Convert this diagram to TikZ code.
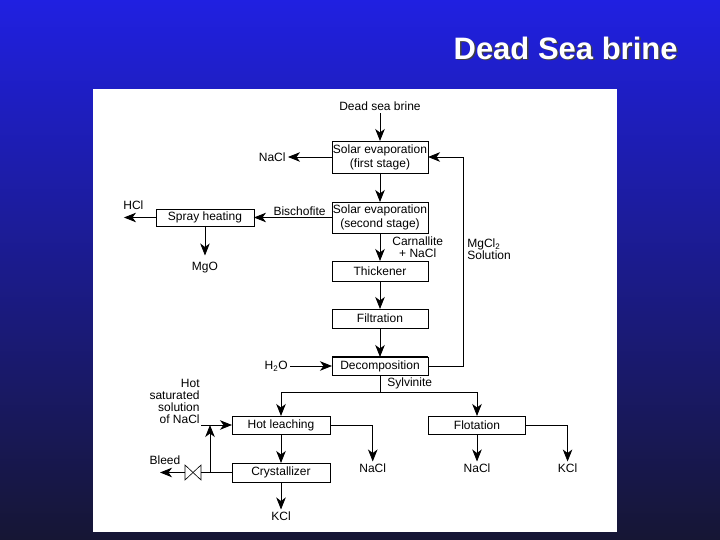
\documentclass[tikz,border=0pt]{standalone}
\usepackage{fontspec}
\setmainfont{Liberation Sans}
\usetikzlibrary{arrows.meta,positioning}
\definecolor{BgTop}{RGB}{32,32,225}
\definecolor{BgMid}{RGB}{30,32,180}
\definecolor{BgBot}{RGB}{22,22,52}

\begin{document}
\begin{tikzpicture}[x=1pt,y=-1pt,>={Stealth[length=12pt,width=9.5pt,inset=3.5pt]},
    line width=0.8pt,font=\fontsize{12}{14}\selectfont,
    unit/.style={draw,minimum width=96pt,minimum height=18pt,inner sep=1pt,outer sep=0pt,align=center},
    lbl/.style={inner sep=2pt,align=center},
    tight/.style={font=\fontsize{12}{12}\selectfont}]
  % slide
  \fill[top color=BgTop,middle color=BgMid,bottom color=BgBot] (0,0) rectangle (720,540);
  \fill[white] (93,89) rectangle (617,532);
  \node[anchor=east,inner sep=0pt,text=black!75,font=\fontsize{31}{36}\selectfont\bfseries] (titleshade) at (679.5,49.5) {Dead Sea brine};
  \node[anchor=east,inner sep=0pt,text=white,font=\fontsize{31}{36}\selectfont\bfseries] (title) at (678,48) {Dead Sea brine};

  % main line
  \node[unit,minimum height=32pt] (se1) at (380,157) {Solar evaporation\\(first stage)};
  \node[lbl,above=27.5pt of se1] (brine) {Dead sea brine};
  \node[unit,minimum height=31pt,below=29pt of se1] (se2) {Solar evaporation\\(second stage)};
  \node[unit,minimum height=20pt,below=28pt of se2] (thk) {Thickener};
  \node[unit,minimum height=19pt,below=28pt of thk] (filt) {Filtration};
  \node[unit,below=29pt of filt] (dec) {Decomposition};
  \draw[line width=1.6pt] (dec.north west) -- (dec.north east);
  \node[unit,minimum width=98pt,below=41pt of dec,xshift=-99pt] (hl) {Hot leaching};
  \node[unit,minimum width=97pt,below=41pt of dec,xshift=97pt] (flot) {Flotation};
  \node[unit,minimum width=98pt,minimum height=19pt,below=29pt of hl] (cry) {Crystallizer};
  \node[unit,minimum width=98pt,minimum height=17pt,left=78pt of se2] (spray) {Spray heating};

  \draw[->] (brine) -- (se1); \draw[->] (se1) -- (se2);
  \draw[->] (se2) -- node[lbl,tight,right,xshift=10pt]{Carnallite\\+ NaCl} (thk);
  \draw[->] (thk) -- (filt); \draw[->] (filt) -- (dec);

  % side streams up top
  \node[lbl,left=44pt of se1] (nacl1) {NaCl};
  \draw[->] (se1) -- (nacl1);
  \draw[->] (se2) -- node[pos=0,anchor=south east,inner sep=1pt,xshift=-5pt]{Bischofite} (spray);
  \coordinate[left=32pt of spray] (hclend);
  \node[lbl,above right=5.5pt and -3pt of hclend] (hcl) {HCl};
  \draw[->] (spray) -- (hclend);
  \node[lbl,below=33.5pt of spray] (mgo) {MgO};
  \draw[->,shorten >=4pt] (spray) -- (mgo);

  % recycle
  \coordinate[right=35pt of dec] (rec);
  \draw[->] (dec) -- (rec) |- node[lbl,tight,pos=0.28,right,xshift=2pt,align=left]{MgCl\textsubscript{2}\\Solution} (se1);
  \node[lbl,left=42pt of dec] (h2o) {H\textsubscript{2}O};
  \draw[->] (h2o) -- (dec);

  % sylvinite split
  \coordinate[below=17pt of dec] (split);
  \draw (dec) -- node[lbl,right,xshift=5pt]{Sylvinite} (split);
  \draw[->] (split) -| (hl); \draw[->] (split) -| (flot);

  \node[lbl,below right=27.5pt and 27pt of hl] (nacl2) {NaCl};
  \node[lbl,below=27.5pt of flot] (nacl3) {NaCl};
  \node[lbl,below right=27.5pt and 30pt of flot] (kcl1) {KCl};
  \node[lbl,below=27.5pt of cry] (kcl2) {KCl};
  \draw[->] (hl) -| (nacl2);
  \draw[->] (flot) -- (nacl3); \draw[->] (flot) -| (kcl1);
  \draw[->] (hl) -- (cry); \draw[->] (cry) -- (kcl2);

  % bleed loop
  \coordinate[left=22pt of cry] (jn);
  \node[minimum width=16pt,minimum height=15pt,inner sep=0pt,outer sep=0pt,left=9pt of jn] (valve) {};
  \draw[line width=0.6pt] (valve.north west) -- (valve.south east) -- (valve.north east) -- (valve.south west) -- cycle;
  \draw (cry) -- (valve);
  \coordinate[left=25pt of valve] (bleedend);
  \draw[->] (valve) -- (bleedend);
  \node[lbl,above=5pt of bleedend,xshift=5pt] (bleed) {Bleed};
  \coordinate[left=31pt of hl] (hotin);
  \draw[->] (hotin) -- (hl);
  \draw[->] (jn) -- (jn |- hotin);
  \node[lbl,tight,anchor=south east,inner sep=1pt,align=right] (hotsat) at (hotin) {Hot\\saturated\\solution\\of NaCl};
\end{tikzpicture}
\end{document}
